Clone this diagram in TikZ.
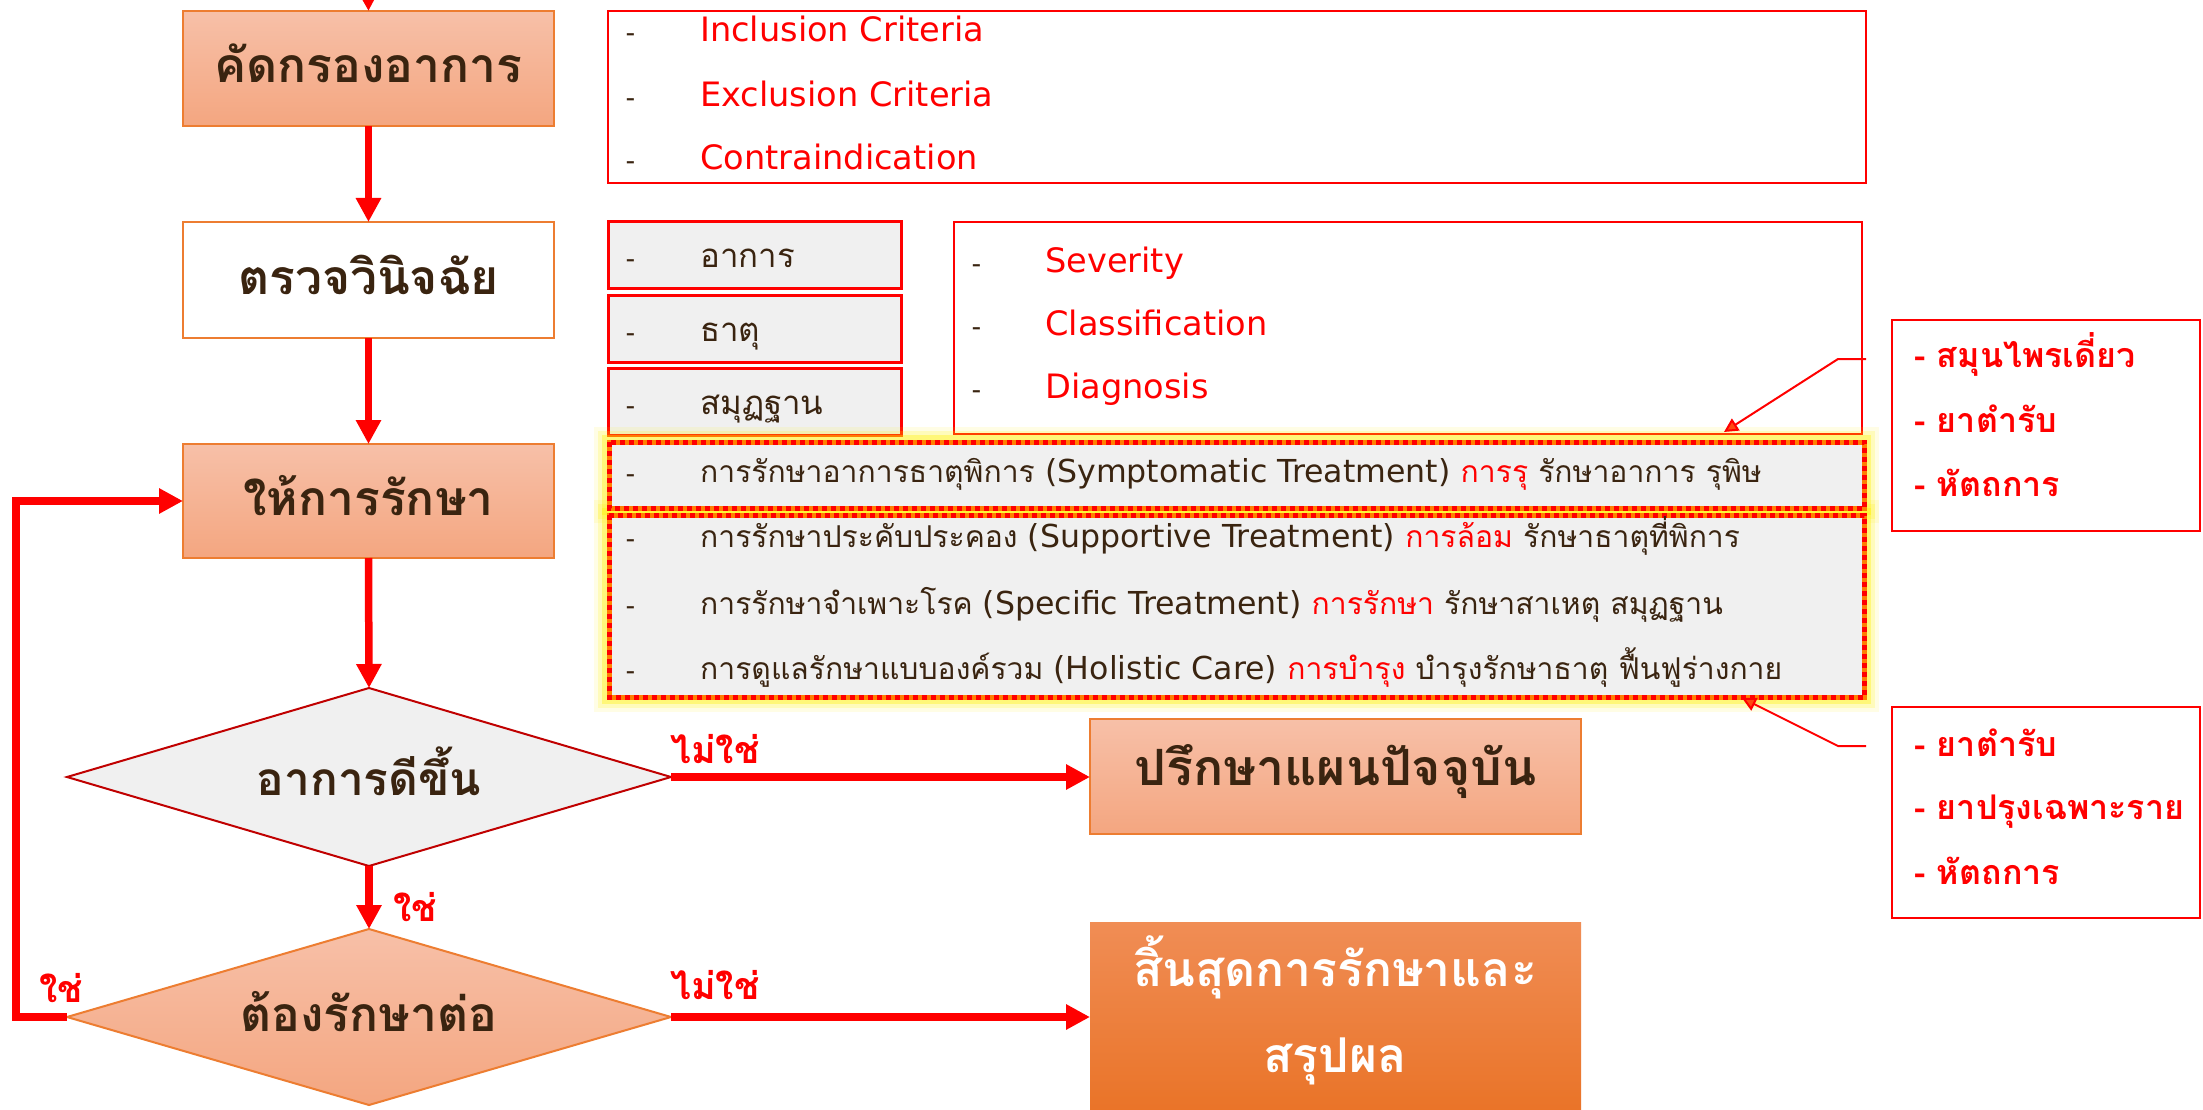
\documentclass[tikz,border=0pt]{standalone}
\usepackage{fontspec}
\setmainfont[Script=Thai]{Loma}
\newfontfamily\latfont[Scale=1.05]{DejaVu Sans}
\usetikzlibrary{arrows.meta,shapes.geometric,calc}
\definecolor{orangeB}{HTML}{ED7D31}
\definecolor{peachTop}{HTML}{F7C0A8}
\definecolor{peachBot}{HTML}{F4A680}
\definecolor{darkText}{HTML}{3A2410}
\definecolor{grayFill}{HTML}{F0F0F0}
\definecolor{darkRed}{HTML}{C00000}
\definecolor{deepTop}{HTML}{F08D55}
\definecolor{deepBot}{HTML}{E86E1E}
\definecolor{tipOrange}{HTML}{FF4A10}
\tikzset{
  flowarrow/.style={draw=red, line width=7.5pt, -{Triangle[length=24pt,width=24pt]}},
  callout/.style={draw=red, line width=2pt, -{Triangle[length=14pt,width=14pt,fill=tipOrange]}},
  peachbox/.style={draw=orangeB, line width=2pt, top color=peachTop, bottom color=peachBot, inner sep=0pt, outer sep=0pt},
  whitebox/.style={draw=orangeB, line width=2pt, fill=white, inner sep=0pt, outer sep=0pt},
  redbox/.style={draw=red, line width=2.5pt, fill=white, inner sep=0pt, outer sep=0pt},
  graybox/.style={draw=red, line width=3pt, fill=grayFill, inner sep=0pt, outer sep=0pt},
  titletext/.style={font=\bfseries\fontsize{48}{56}\selectfont, text=darkText},
  listdash/.style={anchor=mid west, inner sep=0pt, font=\fontsize{26}{30}\selectfont, text=darkText},
  crit/.style={anchor=mid west, inner sep=0pt, font=\latfont\fontsize{32}{40}\selectfont, text=red},
  thaiitem/.style={anchor=mid west, inner sep=0pt, font=\fontsize{33}{40}\selectfont, text=darkText},
  treat/.style={anchor=mid west, inner sep=0pt, font=\fontsize{30.1}{34}\selectfont, text=darkText},
  rightitem/.style={anchor=mid west, inner sep=0pt, font=\bfseries\fontsize{34}{40}\selectfont, text=red},
  yesno/.style={font=\bfseries\fontsize{37.5}{44}\selectfont, text=red, inner sep=0pt},
}
\begin{document}
\begin{tikzpicture}[x=1pt,y=-1pt]
\useasboundingbox (0,0) rectangle (2203,1110);
\clip (0,0) rectangle (2203,1110);
\fill[white] (0,0) rectangle (2203,1110);

% left flow boxes
\node[peachbox, minimum width=371pt, minimum height=115pt, anchor=north west] (b1) at (183,11) {};
\node[titletext] (t1) at ([yshift=5pt]b1.center) {คัดกรองอาการ};
\node[whitebox, minimum width=371pt, minimum height=116pt, anchor=north west] (b2) at (183,222) {};
\node[titletext] (t2) at ([yshift=5pt]b2.center) {ตรวจวินิจฉัย};
\node[peachbox, minimum width=371pt, minimum height=114pt, anchor=north west] (b3) at (183,444) {};
\node[titletext] (t3) at ([yshift=5pt]b3.center) {ให้การรักษา};

\node[diamond, aspect=3.4, draw=darkRed, line width=2pt, fill=grayFill, minimum width=604pt, minimum height=178pt, inner sep=0pt, outer sep=0pt] (d1) at (369,777) {};
\node[titletext, font=\bfseries\fontsize{46}{56}\selectfont] (td1) at ([yshift=6pt]d1.center) {อาการดีขึ้น};
\node[diamond, aspect=3.4, draw=orangeB, line width=2pt, top color=peachTop, bottom color=peachBot, minimum width=604pt, minimum height=176pt, inner sep=0pt, outer sep=0pt] (d2) at (369,1017) {};
\node[titletext] (td2) at ([yshift=5pt]d2.center) {ต้องรักษาต่อ};

\node[peachbox, minimum width=491pt, minimum height=115pt, anchor=north west] (b4) at (1090,719) {};
\node[titletext, font=\bfseries\fontsize{50}{56}\selectfont] (t4) at ([yshift=5pt]b4.center) {ปรึกษาแผนปัจจุบัน};
\node[draw=none, top color=deepTop, bottom color=deepBot, inner sep=0pt, minimum width=491pt, minimum height=230pt, anchor=north west] (b5) at (1090,922) {};
\node[titletext, text=white, align=center, font=\bfseries\fontsize{48}{86}\selectfont] (t5) at (1335,1010) {สิ้นสุดการรักษาและ\\สรุปผล};

% criteria box
\node[redbox, minimum width=1258pt, minimum height=172pt, anchor=north west] (cb) at (608,11) {};
\node[listdash] (cd1) at (626,39) {-};
\node[crit] (ct1) at (700,39) {Inclusion Criteria};
\node[listdash] (cd2) at (626,104) {-};
\node[crit] (ct2) at (700,104) {Exclusion Criteria};
\node[listdash] (cd3) at (626,167) {-};
\node[crit] (ct3) at (700,167) {Contraindication};

% small gray boxes
\node[graybox, minimum width=293pt, minimum height=66pt, anchor=north west] (g1) at (608,222) {};
\node[listdash] (gd1) at (626,265) {-};
\node[thaiitem] (gt1) at (700,265) {อาการ};
\node[graybox, minimum width=293pt, minimum height=67pt, anchor=north west] (g2) at (608,295) {};
\node[listdash] (gd2) at (626,339) {-};
\node[thaiitem] (gt2) at (700,339) {ธาตุ};
\node[graybox, minimum width=293pt, minimum height=67pt, anchor=north west] (g3) at (608,368) {};
\node[listdash] (gd3) at (626,412) {-};
\node[thaiitem] (gt3) at (700,412) {สมุฏฐาน};

% severity box
\node[redbox, minimum width=908pt, minimum height=212pt, anchor=north west] (sb) at (954,222) {};
\node[listdash] (sd1) at (972,270) {-};
\node[crit] (st1) at (1045,270) {Severity};
\node[listdash] (sd2) at (972,333) {-};
\node[crit] (st2) at (1045,333) {Classification};
\node[listdash] (sd3) at (972,396) {-};
\node[crit] (st3) at (1045,396) {Diagnosis};

% treatment boxes with glow
\coordinate (tAnw) at (609,442);
\coordinate (tAse) at (1864,508);
\coordinate (tBnw) at (609,515);
\coordinate (tBse) at (1864,697);
\foreach \w/\o in {30/0.10,22/0.18,14/0.35}{
  \draw[yellow, line width=\w pt, opacity=\o] (tAnw) rectangle (tAse);
  \draw[yellow, line width=\w pt, opacity=\o] (tBnw) rectangle (tBse);
}
\node[fill=grayFill, inner sep=0pt, minimum width=1255pt, minimum height=66pt, anchor=north west] (tA) at (tAnw) {};
\node[fill=grayFill, inner sep=0pt, minimum width=1255pt, minimum height=182pt, anchor=north west] (tB) at (tBnw) {};
\draw[orange, line width=5pt] (tA.north west) rectangle (tA.south east);
\draw[red, line width=5pt, dash pattern=on 5pt off 4pt] (tA.north west) rectangle (tA.south east);
\draw[orange, line width=5pt] (tB.north west) rectangle (tB.south east);
\draw[red, line width=5pt, dash pattern=on 5pt off 4pt] (tB.north west) rectangle (tB.south east);

\node[listdash] (rd1) at (626,480) {-};
\node[treat] (rt1) at (700,480) {การรักษาอาการธาตุพิการ {\latfont (Symptomatic Treatment)} \textcolor{red}{การรุ} รักษาอาการ รุพิษ};
\node[listdash] (rd2) at (626,545) {-};
\node[treat] (rt2) at (700,545) {การรักษาประคับประคอง {\latfont (Supportive Treatment)} \textcolor{red}{การล้อม} รักษาธาตุที่พิการ};
\node[listdash] (rd3) at (626,612) {-};
\node[treat] (rt3) at (700,612) {การรักษาจำเพาะโรค {\latfont (Specific Treatment)} \textcolor{red}{การรักษา} รักษาสาเหตุ สมุฏฐาน};
\node[listdash] (rd4) at (626,677) {-};
\node[treat] (rt4) at (700,677) {การดูแลรักษาแบบองค์รวม {\latfont (Holistic Care)} \textcolor{red}{การบำรุง} บำรุงรักษาธาตุ ฟื้นฟูร่างกาย};

% right boxes
\node[redbox, minimum width=308pt, minimum height=211pt, anchor=north west] (r1) at (1892,320) {};
\node[rightitem] (r1a) at (1914,365) {- สมุนไพรเดี่ยว};
\node[rightitem] (r1b) at (1914,430) {- ยาตำรับ};
\node[rightitem] (r1c) at (1914,494) {- หัตถการ};
\node[redbox, minimum width=308pt, minimum height=211pt, anchor=north west] (r2) at (1892,707) {};
\node[rightitem] (r2a) at (1914,754) {- ยาตำรับ};
\node[rightitem] (r2b) at (1914,817) {- ยาปรุงเฉพาะราย};
\node[rightitem] (r2c) at (1914,882) {- หัตถการ};

% callouts
\coordinate (c1s) at (1866,359);
\coordinate (c1e) at (1838,359);
\coordinate (c1t) at (1724,432);
\draw[callout] (c1s) -- (c1e) -- (c1t);
\coordinate (c2s) at (1866,746);
\coordinate (c2e) at (1838,746);
\coordinate (c2t) at (1742,698);
\draw[callout] (c2s) -- (c2e) -- (c2t);

% flow arrows
\coordinate (top) at (368,-20);
\draw[flowarrow] (top) -- (b1.north);
\draw[flowarrow] (b1.south) -- (b2.north);
\draw[flowarrow] (b2.south) -- (b3.north);
\draw[flowarrow] (b3.south) -- (d1.north);
\draw[flowarrow] (d1.south) -- (d2.north);
\draw[flowarrow] (d1.east) -- (d1.east -| b4.west);
\draw[flowarrow] (d2.east) -- (d2.east -| b5.west);
\coordinate (lp) at (16,760);
\draw[flowarrow] (d2.west) -| (lp) |- (b3.west);

\node[yesno] (y1) at (415,907) {ใช่};
\node[yesno] (n1) at (715,749) {ไม่ใช่};
\node[yesno] (n2) at (715,985) {ไม่ใช่};
\node[yesno] (y2) at (61,988) {ใช่};
\end{tikzpicture}
\end{document}
